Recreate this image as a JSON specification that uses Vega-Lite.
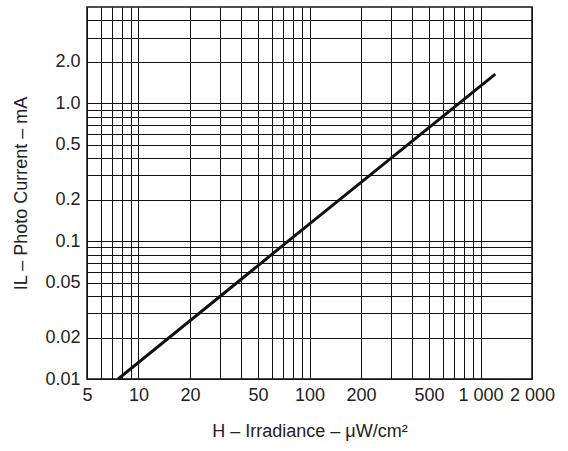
{
  "$schema": "https://vega.github.io/schema/vega-lite/v6.json",
  "autosize": "none",
  "width": 445,
  "height": 372,
  "padding": {"left": 87, "top": 7, "right": 36, "bottom": 72},
  "background": "white",
  "config": {
    "view": {"stroke": "#111", "strokeWidth": 1.5},
    "font": "Liberation Sans"
  },
  "data": {
    "values": [
      {"H": 7.6, "IL": 0.01},
      {"H": 75, "IL": 0.1},
      {"H": 1220, "IL": 1.63}
    ]
  },
  "mark": {"type": "line", "color": "#111", "strokeWidth": 3, "clip": true},
  "encoding": {
    "x": {
      "field": "H",
      "type": "quantitative",
      "scale": {"type": "log", "domain": [5, 2000], "nice": false},
      "axis": {
        "title": "H – Irradiance – μW/cm²",
        "values": [5, 6, 7, 8, 9, 10, 20, 30, 40, 50, 60, 70, 80, 90, 100, 200, 300, 400, 500, 600, 700, 800, 900, 1000, 2000],
        "labelExpr": "datum.value == 1000 ? '1 000' : datum.value == 2000 ? '2 000' : indexof([5, 10, 20, 50, 100, 200, 500], datum.value) >= 0 ? '' + datum.value : ''",
        "grid": true,
        "gridColor": "#111",
        "gridWidth": 1,
        "gridOpacity": 1,
        "domain": false,
        "ticks": false,
        "labelFlush": false,
        "labelOverlap": false,
        "labelPadding": 7,
        "labelFontSize": 18,
        "labelColor": "#222",
        "titleFontSize": 18,
        "titleFontWeight": "normal",
        "titleColor": "#222",
        "titlePadding": 18
      }
    },
    "y": {
      "field": "IL",
      "type": "quantitative",
      "scale": {"type": "log", "domain": [0.01, 5], "nice": false},
      "axis": {
        "title": "IL – Photo Current – mA",
        "values": [0.01, 0.02, 0.03, 0.04, 0.05, 0.06, 0.07, 0.08, 0.09, 0.1, 0.2, 0.3, 0.4, 0.5, 0.6, 0.7, 0.8, 0.9, 1, 2, 3, 4],
        "labelExpr": "datum.value == 1 ? '1.0' : datum.value == 2 ? '2.0' : indexof([0.01, 0.02, 0.05, 0.1, 0.2, 0.5], datum.value) >= 0 ? '' + datum.value : ''",
        "grid": true,
        "gridColor": "#111",
        "gridWidth": 1,
        "gridOpacity": 1,
        "domain": false,
        "ticks": false,
        "labelOverlap": false,
        "labelFlush": false,
        "labelPadding": 7,
        "labelFontSize": 18,
        "labelColor": "#222",
        "titleFontSize": 18,
        "titleFontWeight": "normal",
        "titleColor": "#222",
        "titlePadding": 14
      }
    }
  }
}
